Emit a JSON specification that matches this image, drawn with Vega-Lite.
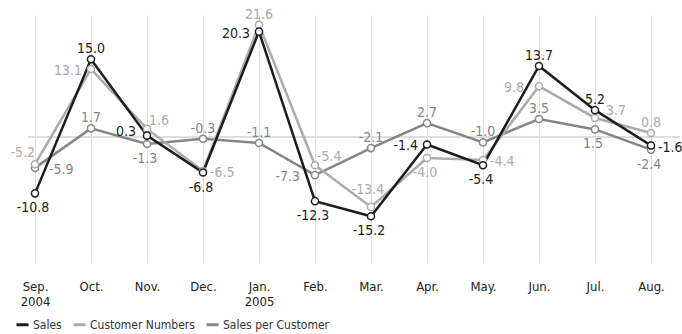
{
  "$schema": "https://vega.github.io/schema/vega-lite/v6.json",
  "width": 652,
  "height": 247,
  "autosize": "none",
  "padding": {"left": 28, "top": 15, "right": 2, "bottom": 72},
  "config": {
    "view": {"stroke": null},
    "font": "'Liberation Sans Narrow', 'DejaVu Sans Condensed', 'Roboto Condensed', Roboto, sans-serif",
    "text": {"font": "'Liberation Sans Narrow', 'DejaVu Sans Condensed', 'Roboto Condensed', Roboto, sans-serif", "fontSize": 14},
    "locale": {"number": {"decimal": ".", "thousands": ",", "grouping": [3], "currency": ["$", ""], "minus": "-"}}
  },
  "data": {
    "values": [
      {"month": "Sep.", "series": "Sales per Customer", "value": -5.9},
      {"month": "Oct.", "series": "Sales per Customer", "value": 1.7},
      {"month": "Nov.", "series": "Sales per Customer", "value": -1.3},
      {"month": "Dec.", "series": "Sales per Customer", "value": -0.3},
      {"month": "Jan.", "series": "Sales per Customer", "value": -1.1},
      {"month": "Feb.", "series": "Sales per Customer", "value": -7.3},
      {"month": "Mar.", "series": "Sales per Customer", "value": -2.1},
      {"month": "Apr.", "series": "Sales per Customer", "value": 2.7},
      {"month": "May.", "series": "Sales per Customer", "value": -1.0},
      {"month": "Jun.", "series": "Sales per Customer", "value": 3.5},
      {"month": "Jul.", "series": "Sales per Customer", "value": 1.5},
      {"month": "Aug.", "series": "Sales per Customer", "value": -2.4},
      {"month": "Sep.", "series": "Customer Numbers", "value": -5.2},
      {"month": "Oct.", "series": "Customer Numbers", "value": 13.1},
      {"month": "Nov.", "series": "Customer Numbers", "value": 1.6},
      {"month": "Dec.", "series": "Customer Numbers", "value": -6.5},
      {"month": "Jan.", "series": "Customer Numbers", "value": 21.6},
      {"month": "Feb.", "series": "Customer Numbers", "value": -5.4},
      {"month": "Mar.", "series": "Customer Numbers", "value": -13.4},
      {"month": "Apr.", "series": "Customer Numbers", "value": -4.0},
      {"month": "May.", "series": "Customer Numbers", "value": -4.4},
      {"month": "Jun.", "series": "Customer Numbers", "value": 9.8},
      {"month": "Jul.", "series": "Customer Numbers", "value": 3.7},
      {"month": "Aug.", "series": "Customer Numbers", "value": 0.8},
      {"month": "Sep.", "series": "Sales", "value": -10.8},
      {"month": "Oct.", "series": "Sales", "value": 15.0},
      {"month": "Nov.", "series": "Sales", "value": 0.3},
      {"month": "Dec.", "series": "Sales", "value": -6.8},
      {"month": "Jan.", "series": "Sales", "value": 20.3},
      {"month": "Feb.", "series": "Sales", "value": -12.3},
      {"month": "Mar.", "series": "Sales", "value": -15.2},
      {"month": "Apr.", "series": "Sales", "value": -1.4},
      {"month": "May.", "series": "Sales", "value": -5.4},
      {"month": "Jun.", "series": "Sales", "value": 13.7},
      {"month": "Jul.", "series": "Sales", "value": 5.2},
      {"month": "Aug.", "series": "Sales", "value": -1.6}
    ]
  },
  "encoding": {
    "x": {
      "field": "month",
      "type": "ordinal",
      "sort": null,
      "scale": {"type": "point", "range": [7, 623], "padding": 0},
      "axis": {
        "title": null,
        "domain": false,
        "ticks": false,
        "grid": true,
        "gridColor": "#dddddd",
        "gridWidth": 1,
        "labelAngle": 0,
        "labelFontSize": 13,
        "labelColor": "#222222",
        "labelPadding": 28,
        "labelLineHeight": 15,
        "labelBaseline": "alphabetic",
        "labelExpr": "datum.value == 'Sep.' ? ['Sep.', '2004'] : datum.value == 'Jan.' ? ['Jan.', '2005'] : datum.value"
      }
    },
    "y": {
      "field": "value",
      "type": "quantitative",
      "scale": {"domain": [-24, 23.5], "nice": false, "zero": false},
      "axis": null
    }
  },
  "layer": [
    {
      "mark": {"type": "rule", "color": "#dddddd", "strokeWidth": 1},
      "encoding": {"x": null, "y": {"datum": 0}}
    },
    {
      "mark": {"type": "line", "strokeWidth": 2.5},
      "encoding": {
        "color": {
          "field": "series",
          "type": "nominal",
          "scale": {
            "domain": ["Sales", "Customer Numbers", "Sales per Customer"],
            "range": ["#1c1c1c", "#ababab", "#858585"]
          },
          "legend": {
            "title": null,
            "orient": "none",
            "legendX": -13,
            "legendY": 302,
            "direction": "horizontal",
            "symbolType": "stroke",
            "symbolSize": 144,
            "symbolStrokeWidth": 3,
            "labelFontSize": 12,
            "labelColor": "#333333",
            "labelOffset": 3,
            "columnPadding": 5
          }
        }
      }
    },
    {
      "mark": {"type": "point", "filled": false, "fill": "white", "size": 50, "strokeWidth": 1.5, "opacity": 1},
      "encoding": {
        "stroke": {"field": "series", "type": "nominal", "scale": {"domain": ["Sales", "Customer Numbers", "Sales per Customer"], "range": ["#1c1c1c", "#ababab", "#858585"]}, "legend": null}
      }
    },
    {
      "transform": [{"filter": "indexof(['Sales|Oct.','Sales|Jun.','Sales|Jul.','Customer Numbers|Jan.','Customer Numbers|Aug.','Sales per Customer|Oct.','Sales per Customer|Dec.','Sales per Customer|Jan.','Sales per Customer|Mar.','Sales per Customer|Apr.','Sales per Customer|May.','Sales per Customer|Jun.'], datum.series + '|' + datum.month) >= 0"}],
      "mark": {"type": "text", "align": "center", "baseline": "alphabetic", "dy": -6},
      "encoding": {
        "text": {"field": "value", "type": "quantitative", "format": ".1f"},
        "color": {"field": "series", "type": "nominal", "scale": {"domain": ["Sales", "Customer Numbers", "Sales per Customer"], "range": ["#1c1c1c", "#ababab", "#858585"]}, "legend": null}
      }
    },
    {
      "transform": [{"filter": "indexof(['Customer Numbers|Mar.'], datum.series + '|' + datum.month) >= 0"}],
      "mark": {"type": "text", "align": "center", "baseline": "alphabetic", "dy": -13, "dx": -3},
      "encoding": {
        "text": {"field": "value", "type": "quantitative", "format": ".1f"},
        "color": {"field": "series", "type": "nominal", "scale": {"domain": ["Sales", "Customer Numbers", "Sales per Customer"], "range": ["#1c1c1c", "#ababab", "#858585"]}, "legend": null}
      }
    },
    {
      "transform": [{"filter": "indexof(['Sales|Sep.','Sales|Dec.','Sales|Feb.','Sales|Mar.','Sales|May.','Customer Numbers|Apr.','Sales per Customer|Nov.','Sales per Customer|Jul.','Sales per Customer|Aug.'], datum.series + '|' + datum.month) >= 0"}],
      "mark": {"type": "text", "align": "center", "baseline": "alphabetic", "dy": 19, "dx": -2},
      "encoding": {
        "text": {"field": "value", "type": "quantitative", "format": ".1f"},
        "color": {"field": "series", "type": "nominal", "scale": {"domain": ["Sales", "Customer Numbers", "Sales per Customer"], "range": ["#1c1c1c", "#ababab", "#858585"]}, "legend": null}
      }
    },
    {
      "transform": [{"filter": "indexof(['Sales|Jan.','Sales|Apr.','Customer Numbers|Oct.'], datum.series + '|' + datum.month) >= 0"}],
      "mark": {"type": "text", "align": "right", "baseline": "alphabetic", "dx": -9, "dy": 6},
      "encoding": {
        "text": {"field": "value", "type": "quantitative", "format": ".1f"},
        "color": {"field": "series", "type": "nominal", "scale": {"domain": ["Sales", "Customer Numbers", "Sales per Customer"], "range": ["#1c1c1c", "#ababab", "#858585"]}, "legend": null}
      }
    },
    {
      "transform": [{"filter": "indexof(['Customer Numbers|Jun.','Sales per Customer|Feb.'], datum.series + '|' + datum.month) >= 0"}],
      "mark": {"type": "text", "align": "right", "baseline": "alphabetic", "dx": -15, "dy": 6},
      "encoding": {
        "text": {"field": "value", "type": "quantitative", "format": ".1f"},
        "color": {"field": "series", "type": "nominal", "scale": {"domain": ["Sales", "Customer Numbers", "Sales per Customer"], "range": ["#1c1c1c", "#ababab", "#858585"]}, "legend": null}
      }
    },
    {
      "transform": [{"filter": "indexof(['Sales|Nov.'], datum.series + '|' + datum.month) >= 0"}],
      "mark": {"type": "text", "align": "right", "baseline": "alphabetic", "dx": -11, "dy": 0},
      "encoding": {
        "text": {"field": "value", "type": "quantitative", "format": ".1f"},
        "color": {"field": "series", "type": "nominal", "scale": {"domain": ["Sales", "Customer Numbers", "Sales per Customer"], "range": ["#1c1c1c", "#ababab", "#858585"]}, "legend": null}
      }
    },
    {
      "transform": [{"filter": "indexof(['Sales|Aug.','Customer Numbers|Dec.','Customer Numbers|May.'], datum.series + '|' + datum.month) >= 0"}],
      "mark": {"type": "text", "align": "left", "baseline": "alphabetic", "dx": 7, "dy": 6},
      "encoding": {
        "text": {"field": "value", "type": "quantitative", "format": ".1f"},
        "color": {"field": "series", "type": "nominal", "scale": {"domain": ["Sales", "Customer Numbers", "Sales per Customer"], "range": ["#1c1c1c", "#ababab", "#858585"]}, "legend": null}
      }
    },
    {
      "transform": [{"filter": "indexof(['Sales per Customer|Sep.'], datum.series + '|' + datum.month) >= 0"}],
      "mark": {"type": "text", "align": "left", "baseline": "alphabetic", "dx": 14, "dy": 6},
      "encoding": {
        "text": {"field": "value", "type": "quantitative", "format": ".1f"},
        "color": {"field": "series", "type": "nominal", "scale": {"domain": ["Sales", "Customer Numbers", "Sales per Customer"], "range": ["#1c1c1c", "#ababab", "#858585"]}, "legend": null}
      }
    },
    {
      "transform": [{"filter": "indexof(['Customer Numbers|Jul.'], datum.series + '|' + datum.month) >= 0"}],
      "mark": {"type": "text", "align": "left", "baseline": "alphabetic", "dx": 11, "dy": -3},
      "encoding": {
        "text": {"field": "value", "type": "quantitative", "format": ".1f"},
        "color": {"field": "series", "type": "nominal", "scale": {"domain": ["Sales", "Customer Numbers", "Sales per Customer"], "range": ["#1c1c1c", "#ababab", "#858585"]}, "legend": null}
      }
    },
    {
      "transform": [{"filter": "indexof(['Customer Numbers|Sep.'], datum.series + '|' + datum.month) >= 0"}],
      "mark": {"type": "text", "align": "right", "baseline": "alphabetic", "dx": 0, "dy": -7},
      "encoding": {
        "text": {"field": "value", "type": "quantitative", "format": ".1f"},
        "color": {"field": "series", "type": "nominal", "scale": {"domain": ["Sales", "Customer Numbers", "Sales per Customer"], "range": ["#1c1c1c", "#ababab", "#858585"]}, "legend": null}
      }
    },
    {
      "transform": [{"filter": "indexof(['Customer Numbers|Nov.','Customer Numbers|Feb.'], datum.series + '|' + datum.month) >= 0"}],
      "mark": {"type": "text", "align": "left", "baseline": "alphabetic", "dx": 2, "dy": -4},
      "encoding": {
        "text": {"field": "value", "type": "quantitative", "format": ".1f"},
        "color": {"field": "series", "type": "nominal", "scale": {"domain": ["Sales", "Customer Numbers", "Sales per Customer"], "range": ["#1c1c1c", "#ababab", "#858585"]}, "legend": null}
      }
    }
  ]
}
